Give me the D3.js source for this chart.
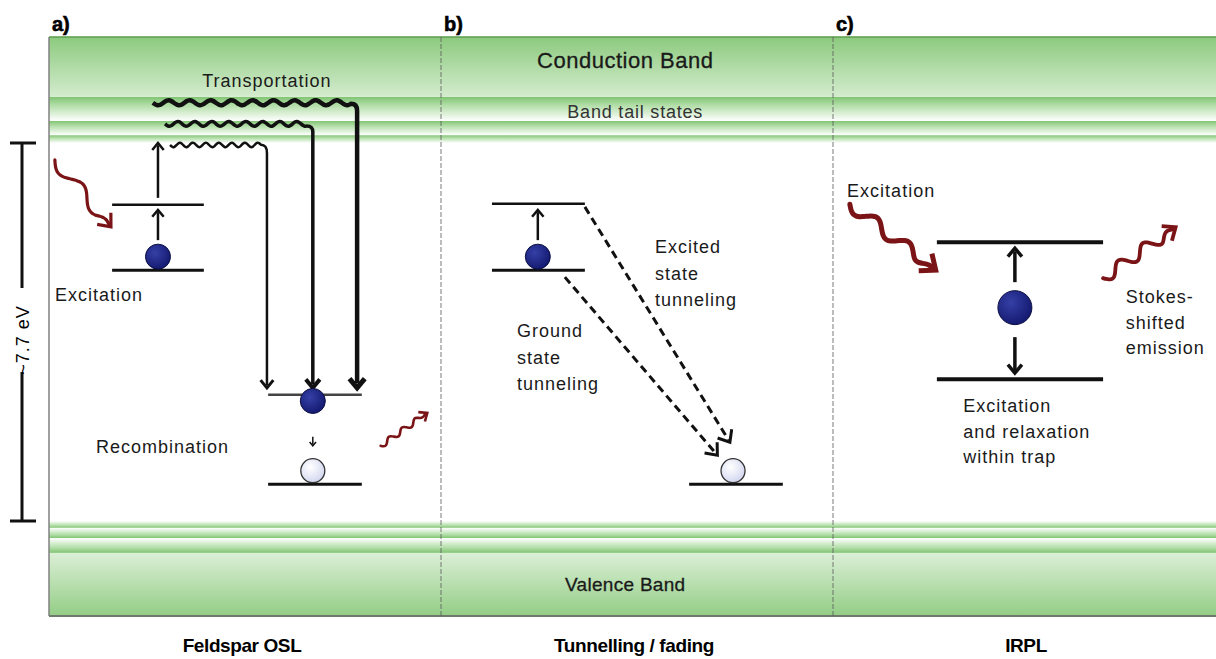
<!DOCTYPE html>
<html>
<head>
<meta charset="utf-8">
<script src="https://cdn.jsdelivr.net/npm/d3@7"></script>
<style>
  html, body { margin: 0; padding: 0; background: #fff; }
  text { font-family: "Liberation Sans", Arial, sans-serif; }
</style>
</head>
<body>
<div id="diagram"></div>
<script>
// ---- data (energies in eV, measured from the valence band top) ----
const panels = ["a", "b", "c"];
const panelTags = ["a)", "b)", "c)"];
const panelTitles = ["Feldspar OSL", "Tunnelling / fading", "IRPL"];
const bandGapEV = 7.7;
const upperEdges = [7.7, 7.86, 8.15, 8.64, 9.86];   // band tail states, then conduction band
const lowerEdges = [0, -0.14, -0.35, -0.65, -1.94];  // valence tail, then valence band
const bandNames = ["Conduction Band", "Band tail states", "Valence Band"];

const oslTrap = [5.11, 6.44];          // ground, excited state
const oslTransport = [7.66, 8.09, 8.52];
const oslCentre = [0.75, 2.57];        // recombination centre, electron level
const tunnelTrap = [5.11, 6.46];
const tunnelCentre = 0.75;
const irplTrap = [2.89, 5.68];

const textA = ["Transportation", "Excitation", "Recombination"];
const textB = [["Excited", "state", "tunneling"], ["Ground", "state", "tunneling"]];
const textC = ["Excitation", ["Stokes-", "shifted", "emission"], ["Excitation", "and relaxation", "within trap"]];

// ---- layout ----
const W = 1216, H = 659;
const frame = {left: 49, right: 1225, top: 37, bottom: 616};

const svg = d3.select("#diagram").append("svg")
    .attr("width", W)
    .attr("height", H);

const yE = d3.scaleLinear().domain([0, bandGapEV]).range([521, 143]);
const xP = d3.scaleBand().domain(panels).range([frame.left, frame.right]);
const px = (p, f) => xP(p) + f * xP.bandwidth();

const ink = "#111";
const red = "#7b1416";

// gradients
const defs = svg.append("defs");
function vGrad(id, stops) {
    const g = defs.append("linearGradient").attr("id", id)
        .attr("x1", 0).attr("y1", 0).attr("x2", 0).attr("y2", 1);
    stops.forEach(s => g.append("stop").attr("offset", s[0]).attr("stop-color", s[1]));
}
vGrad("cb", [[0, "#8cca7e"], [1, "#d4ecce"]]);
vGrad("tailTop", [[0, "#80c472"], [0.35, "#b2dea8"], [1, "#ffffff"]]);
vGrad("tailBot", [[0, "#ffffff"], [0.65, "#b2dea8"], [1, "#80c472"]]);
vGrad("vb", [[0, "#dbefd6"], [1, "#93cd85"]]);
const rg1 = defs.append("radialGradient").attr("id", "dot").attr("cx", "38%").attr("cy", "35%").attr("r", "65%");
rg1.append("stop").attr("offset", 0).attr("stop-color", "#3540a6");
rg1.append("stop").attr("offset", 1).attr("stop-color", "#151b72");
const rg2 = defs.append("radialGradient").attr("id", "hole").attr("cx", "40%").attr("cy", "35%").attr("r", "65%");
rg2.append("stop").attr("offset", 0).attr("stop-color", "#ffffff");
rg2.append("stop").attr("offset", 1).attr("stop-color", "#d4d8f0");

// ---- bands ----
const bands = svg.append("g");
d3.pairs(upperEdges).forEach((pr, i) => {
    bands.append("rect")
        .attr("x", frame.left).attr("width", frame.right - frame.left)
        .attr("y", yE(pr[1])).attr("height", yE(pr[0]) - yE(pr[1]))
        .attr("fill", i === upperEdges.length - 2 ? "url(#cb)" : "url(#tailTop)");
});
d3.pairs(lowerEdges).forEach((pr, i) => {
    bands.append("rect")
        .attr("x", frame.left).attr("width", frame.right - frame.left)
        .attr("y", yE(pr[0])).attr("height", yE(pr[1]) - yE(pr[0]))
        .attr("fill", i === lowerEdges.length - 2 ? "url(#vb)" : "url(#tailBot)");
});

// frame
svg.append("line").attr("x1", frame.left).attr("x2", frame.right)
    .attr("y1", frame.top).attr("y2", frame.top)
    .attr("stroke", "#5c9c4c").attr("stroke-width", 1.5);
svg.append("line").attr("x1", frame.left).attr("x2", frame.right)
    .attr("y1", frame.bottom).attr("y2", frame.bottom)
    .attr("stroke", "#6f7a6c").attr("stroke-width", 2);
svg.append("line").attr("x1", frame.left).attr("x2", frame.left)
    .attr("y1", frame.top).attr("y2", frame.bottom)
    .attr("stroke", "#808080").attr("stroke-width", 1.5);

// panel dividers
panels.slice(1).forEach(p => {
    svg.append("line").attr("x1", xP(p)).attr("x2", xP(p))
        .attr("y1", frame.top).attr("y2", frame.bottom)
        .attr("stroke", "#5a5a5a").attr("stroke-width", 1)
        .attr("stroke-dasharray", "5,2").attr("opacity", 0.8);
});

// panel tags and titles
panels.forEach((p, i) => {
    svg.append("text").attr("x", xP(p) + 3).attr("y", 31)
        .attr("font-size", 20).attr("font-weight", "bold").attr("stroke", "#000").attr("stroke-width", 0.6)
        .text(panelTags[i]);
    svg.append("text").attr("x", xP(p) + 193).attr("y", 652)
        .attr("text-anchor", "middle").attr("font-size", 19).attr("font-weight", "bold")
        .attr("letter-spacing", -0.4)
        .text(panelTitles[i]);
});

// band names
const midB = px("b", 0.47);
svg.append("text").attr("x", midB).attr("y", 68).attr("text-anchor", "middle")
    .attr("font-size", 22).attr("letter-spacing", 0.5).attr("fill", "#1a1a1a")
    .attr("stroke", "#1a1a1a").attr("stroke-width", 0.3).text(bandNames[0]);
svg.append("text").attr("x", midB + 10).attr("y", 118).attr("text-anchor", "middle")
    .attr("font-size", 18).attr("letter-spacing", 0.8).attr("fill", "#333").text(bandNames[1]);
svg.append("text").attr("x", midB).attr("y", 591).attr("text-anchor", "middle")
    .attr("font-size", 19).attr("letter-spacing", 0.3).attr("fill", "#1a1a1a")
    .attr("stroke", "#1a1a1a").attr("stroke-width", 0.3).text(bandNames[2]);

// energy scale bar
const sb = svg.append("g").attr("stroke", ink).attr("stroke-width", 3);
sb.append("line").attr("x1", 22).attr("x2", 22).attr("y1", yE(bandGapEV)).attr("y2", 288);
sb.append("line").attr("x1", 22).attr("x2", 22).attr("y1", 372).attr("y2", yE(0));
[bandGapEV, 0].forEach(e => sb.append("line").attr("x1", 10).attr("x2", 36).attr("y1", yE(e)).attr("y2", yE(e)));
svg.append("text").attr("transform", `translate(29,${(yE(0) + yE(bandGapEV)) / 2 + 8}) rotate(-90)`)
    .attr("text-anchor", "middle").attr("font-size", 18).attr("letter-spacing", 1)
    .text(`~${bandGapEV} eV`);

// ---- helpers ----
function chevron(g, x, y, ang, h, w, color) {
    const a1 = ang + Math.PI * 0.78, a2 = ang - Math.PI * 0.78;
    g.append("path")
        .attr("d", `M${x + h * Math.cos(a1)},${y + h * Math.sin(a1)}L${x},${y}L${x + h * Math.cos(a2)},${y + h * Math.sin(a2)}`)
        .attr("fill", "none").attr("stroke", color).attr("stroke-width", w)
        .attr("stroke-linejoin", "miter").attr("stroke-miterlimit", 10);
}
function arrow(g, x1, y1, x2, y2, o) {
    const ang = Math.atan2(y2 - y1, x2 - x1);
    const back = o.w * 0.9;
    g.append("line").attr("x1", x1).attr("y1", y1)
        .attr("x2", x2 - back * Math.cos(ang)).attr("y2", y2 - back * Math.sin(ang))
        .attr("stroke", o.color || ink).attr("stroke-width", o.w)
        .attr("stroke-dasharray", o.dash || null);
    chevron(g, x2, y2, ang, o.h, o.hw || o.w, o.color || ink);
}
function wavePts(x0, y0, x1, y1, amp, wl, taper) {
    const dx = x1 - x0, dy = y1 - y0, L = Math.hypot(dx, dy);
    const nx = -dy / L, ny = dx / L;
    const n = Math.max(8, Math.round(L / 2));
    return d3.range(n + 1).map(i => {
        const t = i / n;
        const k = taper ? Math.min(1, (1 - t) / taper) : 1;
        const s = Math.sin(t * L / wl * 2 * Math.PI) * amp * k;
        return [x0 + dx * t + nx * s, y0 + dy * t + ny * s];
    });
}
const curve = d3.line().curve(d3.curveBasis);
function wavyArrow(g, x0, y0, x1, y1, o) {
    const ang = Math.atan2(y1 - y0, x1 - x0);
    const ex = x1 - o.w * Math.cos(ang), ey = y1 - o.w * Math.sin(ang);
    g.append("path").attr("d", curve(wavePts(x0, y0, ex, ey, o.amp, o.wl, 0.18)))
        .attr("fill", "none").attr("stroke", o.color).attr("stroke-width", o.w)
        .attr("stroke-linecap", "round");
    chevron(g, x1, y1, ang, o.h, o.w, o.color);
}
function level(g, p, f0, f1, e, w, color) {
    g.append("line").attr("x1", px(p, f0)).attr("x2", px(p, f1))
        .attr("y1", yE(e)).attr("y2", yE(e))
        .attr("stroke", color || ink).attr("stroke-width", w);
}
function dot(g, x, e, r, filled) {
    g.append("circle").attr("cx", x).attr("cy", yE(e) - r - 1).attr("r", r)
        .attr("fill", filled ? "url(#dot)" : "url(#hole)")
        .attr("stroke", filled ? "#0c0f40" : "#333").attr("stroke-width", filled ? 1 : 1.3);
}
function lines(g, arr, x, y, gap, anchor) {
    arr.forEach((t, i) => g.append("text").attr("x", x).attr("y", y + i * gap)
        .attr("text-anchor", anchor || "start").attr("font-size", 18)
        .attr("letter-spacing", 1).attr("fill", "#1a1a1a").text(t));
}

// ---- panel a: feldspar OSL ----
const ga = svg.append("g");
const aX = px("a", 0.278);
level(ga, "a", 0.161, 0.395, oslTrap[0], 3);
level(ga, "a", 0.161, 0.395, oslTrap[1], 2.5);
dot(ga, aX, oslTrap[0], 12.5, true);
arrow(ga, aX, yE(oslTrap[0]) - 30, aX, yE(oslTrap[1]) + 5, {w: 2.5, h: 9});
arrow(ga, aX, yE(oslTrap[1]) - 7, aX, yE(bandGapEV), {w: 2.5, h: 9});

const tStart = [0.309, 0.296, 0.265];
const tEnd = [0.556, 0.673, 0.786];
const tW = [2.5, 3.5, 4.5];
const tWl = [13, 17, 21];
oslTransport.forEach((e, i) => {
    const y = yE(e), xs = px("a", tStart[i]), xe = px("a", tEnd[i]);
    const tip = yE(oslCentre[1]) - 7;
    const pts = wavePts(xs, y, xe - 6, y, 2.6, tWl[i]);
    const last = pts[pts.length - 1];
    ga.append("path")
        .attr("d", curve(pts) + `Q${xe},${last[1]} ${xe},${y + 8}L${xe},${tip - tW[i]}`)
        .attr("fill", "none").attr("stroke", ink).attr("stroke-width", tW[i]);
    chevron(ga, xe, tip, Math.PI / 2, 10 + i, tW[i] + 0.5, ink);
});

const cX = px("a", 0.673);
level(ga, "a", 0.559, 0.798, oslCentre[1], 2.5, "#444");
dot(ga, cX, oslCentre[1] - 0.4, 12.5, true);
arrow(ga, cX, yE(oslCentre[1]) + 42, cX, yE(oslCentre[1]) + 51, {w: 1.5, h: 5});
level(ga, "a", 0.559, 0.798, oslCentre[0], 3);
dot(ga, cX, oslCentre[0] + 0.01, 12, false);

wavyArrow(ga, px("a", 0.015), yE(oslTrap[1]) - 45, px("a", 0.158), yE(oslTrap[1]) + 22,
    {amp: 6, wl: 50, w: 3.2, h: 14, color: red});
wavyArrow(ga, px("a", 0.846), yE(oslCentre[1]) + 51, px("a", 0.965), yE(oslCentre[1]) + 18,
    {amp: 3, wl: 16, w: 2.6, h: 9, color: red});

ga.append("text").attr("x", px("a", 0.556)).attr("y", 87).attr("text-anchor", "middle")
    .attr("font-size", 18).attr("letter-spacing", 1).attr("fill", "#1a1a1a").text(textA[0]);
lines(ga, [textA[1]], px("a", 0.015), 301, 0);
lines(ga, [textA[2]], px("a", 0.12), 453, 0);

// ---- panel b: tunnelling ----
const gb = svg.append("g");
const bX = px("b", 0.247), bX2 = px("b", 0.745);
level(gb, "b", 0.13, 0.367, tunnelTrap[0], 3);
level(gb, "b", 0.13, 0.367, tunnelTrap[1], 2.5);
dot(gb, bX, tunnelTrap[0], 12.5, true);
arrow(gb, bX, yE(tunnelTrap[0]) - 30, bX, yE(tunnelTrap[1]) + 6, {w: 2.5, h: 9});
level(gb, "b", 0.633, 0.872, tunnelCentre, 3);
dot(gb, bX2, tunnelCentre + 0.01, 12, false);
arrow(gb, px("b", 0.316), yE(tunnelTrap[0]) + 7, px("b", 0.705), yE(tunnelCentre) - 29,
    {w: 3, h: 13, dash: "8,5"});
arrow(gb, px("b", 0.367), yE(tunnelTrap[1]) + 3, px("b", 0.737), yE(tunnelCentre) - 42,
    {w: 3, h: 13, dash: "8,5"});
lines(gb, textB[0], px("b", 0.546), 253, 26.5);
lines(gb, textB[1], px("b", 0.194), 337, 26.5);

// ---- panel c: IRPL ----
const gc = svg.append("g");
const irX = px("c", 0.464);
level(gc, "c", 0.265, 0.689, irplTrap[1], 4);
level(gc, "c", 0.265, 0.689, irplTrap[0], 4);
gc.append("circle").attr("cx", irX).attr("cy", (yE(irplTrap[0]) + yE(irplTrap[1])) / 2 - 3).attr("r", 17)
    .attr("fill", "url(#dot)").attr("stroke", "#0c0f40").attr("stroke-width", 1);
arrow(gc, irX, yE(irplTrap[1]) + 40, irX, yE(irplTrap[1]) + 6, {w: 3.5, h: 11});
arrow(gc, irX, yE(irplTrap[0]) - 42, irX, yE(irplTrap[0]) - 6, {w: 3.5, h: 11});
wavyArrow(gc, px("c", 0.043), yE(irplTrap[1]) - 38, px("c", 0.262), yE(irplTrap[1]) + 28,
    {amp: 6, wl: 40, w: 5, h: 17, color: red});
wavyArrow(gc, px("c", 0.689), yE(irplTrap[1]) + 36, px("c", 0.874), yE(irplTrap[1]) - 15,
    {amp: 6, wl: 30, w: 3.8, h: 14, color: red});
lines(gc, [textC[0]], px("c", 0.036), 197, 0);
lines(gc, textC[1], px("c", 0.747), 303, 25.5);
lines(gc, textC[2], px("c", 0.332), 412, 25.5);
</script>
</body>
</html>
